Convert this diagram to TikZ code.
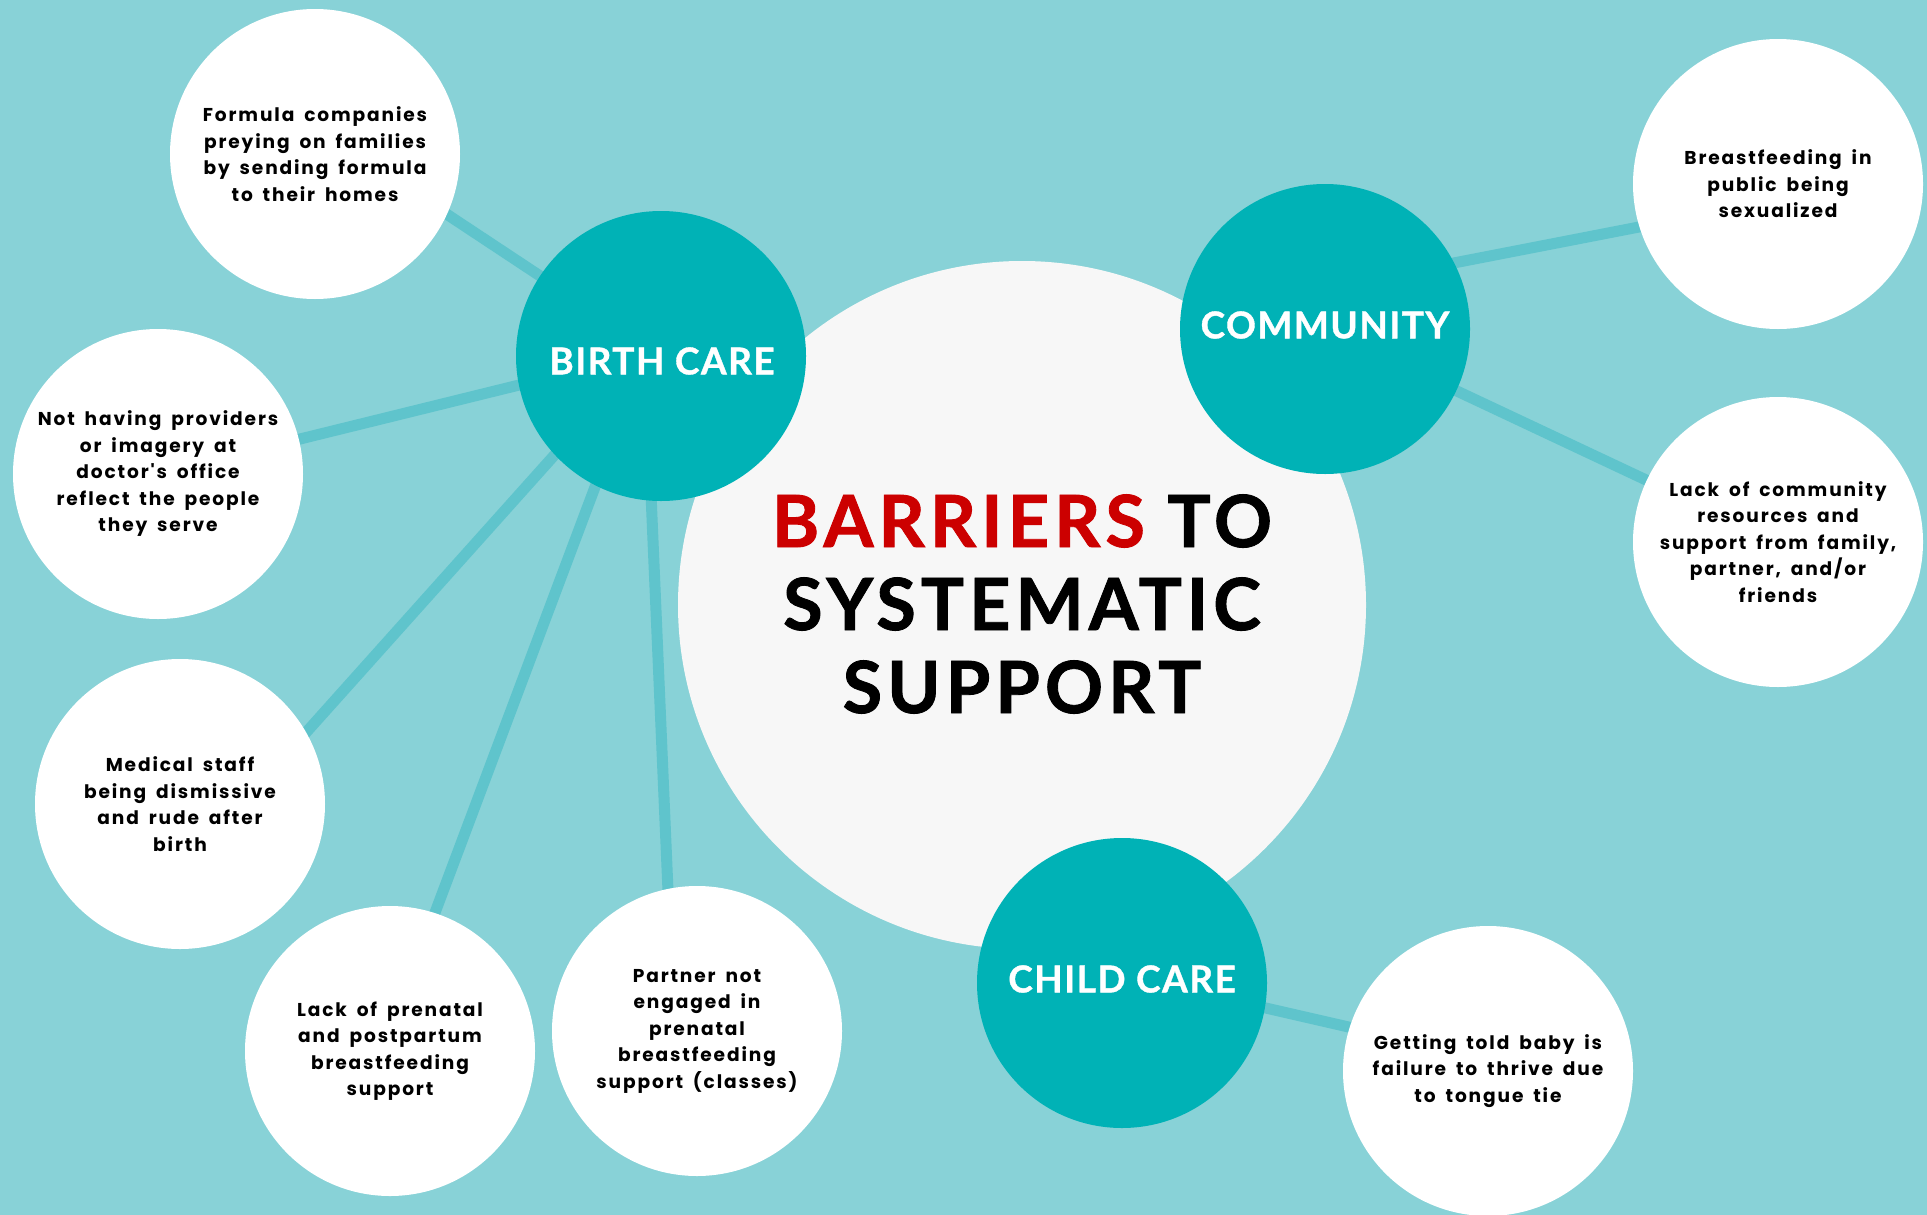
\documentclass[tikz,border=0pt]{standalone}
\usepackage{fontspec}
\usetikzlibrary{calc}
\newfontfamily\bodyfont{Poppins}[LetterSpace=10,WordSpace=1.7]
\newfontfamily\headfont{Lato}[LetterSpace=7,FakeBold=1.2]
\newfontfamily\hubfont{Lato}[LetterSpace=4,FakeBold=1.0]
\definecolor{bgteal}{RGB}{136,210,215}
\definecolor{hubteal}{RGB}{0,178,182}
\definecolor{linkteal}{RGB}{95,196,204}
\definecolor{coreg}{RGB}{247,247,247}
\definecolor{barred}{RGB}{204,0,0}
\pgfdeclarelayer{back}
\pgfsetlayers{back,main}
\begin{document}
\begin{tikzpicture}[x=0.5pt,y=-0.5pt,
  hub/.style={circle,fill=hubteal,minimum size=145pt,inner sep=0pt,outer sep=0pt},
  hublabel/.style={text=white,inner sep=0pt,font=\hubfont\bfseries\fontsize{18.5}{22}\selectfont},
  leaf/.style={circle,fill=white,minimum size=145pt,inner sep=0pt,outer sep=0pt,
    align=center,text=black,font=\bodyfont\bfseries\fontsize{9.3}{13.25}\selectfont},
  core/.style={circle,fill=coreg,minimum size=344pt,inner sep=0pt,outer sep=0pt},
  link/.style={draw=linkteal,line width=5.5pt}]
\useasboundingbox (0,0) rectangle (1927,1215);

% central circle
\node[core] (core) at (1022,605) {};
\node[align=center,font=\headfont\bfseries\fontsize{36}{41.5}\selectfont] (title) at (1022,604)
  {\textcolor{barred}{BARRIERS} TO\\SYSTEMATIC\\SUPPORT};

% hubs
\node[hub] (bc) at (661,356) {};
\node[hub] (cm) at (1325,329) {};
\node[hub] (cc) at (1122,983) {};
\node[hublabel] (bcl) at (662,361) {BIRTH CARE};
\node[hublabel] (cml) at (1325,325) {COMMUNITY};
\node[hublabel] (ccl) at (1122,979) {CHILD CARE};

% leaves
\node[leaf] (f)  at (315,154)  {Formula companies\\preying on families\\by sending formula\\to their homes};
\node[leaf] (nh) at (158,474)  {Not having providers\\or imagery at\\doctor's office\\reflect the people\\they serve};
\node[leaf] (md) at (180,804)  {Medical staff\\being dismissive\\and rude after\\birth};
\node[leaf] (lp) at (390,1051) {Lack of prenatal\\and postpartum\\breastfeeding\\support};
\node[leaf] (pn) at (697,1031) {Partner not\\engaged in\\prenatal\\breastfeeding\\support (classes)};
\node[leaf] (bp) at (1778,184) {Breastfeeding in\\public being\\sexualized};
\node[leaf] (lc) at (1778,542) {Lack of community\\resources and\\support from family,\\partner, and/or\\friends};
\node[leaf] (gt) at (1488,1071) {Getting told baby is\\failure to thrive due\\to tongue tie};

\coordinate (bchub) at ($(bc.center)+(-16,-2)$);
\coordinate (cmhub) at ($(cm.center)+(0,-41)$);

\begin{pgfonlayer}{back}
  \fill[bgteal] (0,0) rectangle (1927,1215);
  \draw[link] (bc.center) -- ($(f.center)+(0,-27)$);
  \draw[link] (bchub) -- (nh.center);
  \draw[link] (bchub) -- ($(md.center)+(62,0)$);
  \draw[link] (bchub) -- ($(lp.center)+(-7,0)$);
  \draw[link] (bchub) -- ($(pn.center)+(-23,0)$);
  \draw[link] (cmhub) -- ($(bp.center)+(0,16)$);
  \draw[link] (cm.center) -- (lc.center);
  \draw[link] ($(cc.center)+(0,-8)$) -- ($(gt.center)+(0,-12)$);
\end{pgfonlayer}
\end{tikzpicture}
\end{document}
